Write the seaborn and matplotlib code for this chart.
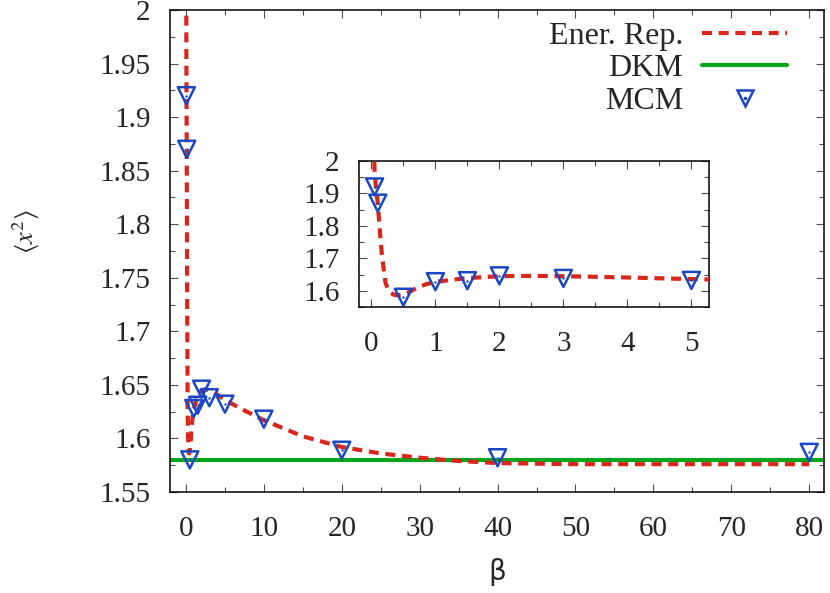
import numpy as np
import pandas as pd
import matplotlib
matplotlib.use("Agg")
import matplotlib.pyplot as plt
import seaborn as sns
from matplotlib.lines import Line2D
from matplotlib.ticker import MultipleLocator

# Ener. Rep. curve
beta_er = [0.03, 0.05, 0.07, 0.1, 0.13, 0.16, 0.19, 0.22, 0.26, 0.3, 0.35, 0.4,
           0.5, 0.6, 0.7, 0.85, 1.0, 1.25, 1.5, 2.0, 2.5, 3.0, 4.0, 5.0, 7.0,
           10, 15, 20, 25, 30, 35, 40, 50, 60, 70, 80]
x2_er = [2.1, 1.97, 1.92, 1.87, 1.79, 1.72, 1.67, 1.625, 1.605, 1.594, 1.588, 1.586,
         1.589, 1.597, 1.608, 1.62, 1.627, 1.634, 1.639, 1.645, 1.646, 1.645, 1.641, 1.636, 1.628,
         1.617, 1.602, 1.592, 1.586, 1.582, 1.579, 1.577, 1.576, 1.576, 1.576, 1.576]

# MCM points
beta_mcm = [0.05, 0.1, 0.5, 1.0, 1.5, 2.0, 3.0, 5.0, 10, 20, 40, 80]
x2_mcm = [1.92, 1.87, 1.58, 1.628, 1.631, 1.646, 1.638, 1.632, 1.618, 1.589, 1.582, 1.587]

# DKM value
dkm = [1.580]

RED = "#d8261a"
GREEN = "#0aa51e"
BLUE = "#1a48c4"

sns.set_theme(style="ticks")
plt.rcParams["font.family"] = ["Liberation Serif", "DejaVu Serif"]
plt.rcParams["mathtext.fontset"] = "stix"

er_df = pd.DataFrame({"beta": beta_er, "x2": x2_er})
mcm_df = pd.DataFrame({"beta": beta_mcm, "x2": x2_mcm})

fig = plt.figure(figsize=(8.3, 5.93), dpi=100)
ax = fig.add_axes([0.2048, 0.1703, 0.788, 0.8128])
ins = fig.add_axes([0.4325, 0.4823, 0.4217, 0.2462])


def draw(a, with_dkm):
    if with_dkm:
        a.axhline(dkm[0], color=GREEN, lw=3, zorder=2)
    sns.lineplot(data=er_df, x="beta", y="x2", ax=a, color=RED, lw=3,
                 dashes=False, zorder=3).lines[-1].set_dashes((2.4, 1.6))
    sns.scatterplot(data=mcm_df, x="beta", y="x2", ax=a, marker="v", s=150,
                    facecolor="none", edgecolor=BLUE, linewidth=1.8, zorder=4)
    sns.scatterplot(data=mcm_df, x="beta", y="x2", ax=a, marker="o", s=3,
                    color=BLUE, linewidth=0, zorder=5)
    a.set_xlabel("")
    a.set_ylabel("")
    a.tick_params(which="both", direction="in", top=True, right=True,
                  color="0.3", width=0.8, labelsize=21)
    a.tick_params(which="major", length=6)
    a.tick_params(which="minor", length=3.5)
    a.tick_params(axis="x", pad=17)
    a.tick_params(axis="y", pad=14)
    for s in a.spines.values():
        s.set_linewidth(1.1)
        s.set_color("black")


draw(ax, True)
ax.set_xlim(-2.05, 81.9)
ax.set_ylim(1.55, 2.0)
ax.xaxis.set_major_locator(MultipleLocator(10))
ax.xaxis.set_minor_locator(MultipleLocator(5))
ax.set_yticks([1.55, 1.6, 1.65, 1.7, 1.75, 1.8, 1.85, 1.9, 1.95, 2.0])
ax.set_yticklabels(["1.55", "1.6", "1.65", "1.7", "1.75", "1.8", "1.85", "1.9", "1.95", "2"])
ax.yaxis.set_minor_locator(MultipleLocator(0.025))
ax.set_xlabel("β", fontsize=20, family="DejaVu Sans", labelpad=12)
ax.set_ylabel(r"$\langle x^2\rangle$", fontsize=19)
ax.yaxis.set_label_coords(-0.195, 0.54)

draw(ins, False)
ins.set_xlim(-0.194, 5.275)
ins.set_ylim(1.55, 2.0)
ins.xaxis.set_major_locator(MultipleLocator(1))
ins.xaxis.set_minor_locator(MultipleLocator(0.5))
ins.set_yticks([1.6, 1.7, 1.8, 1.9, 2.0])
ins.set_yticklabels(["1.6", "1.7", "1.8", "1.9", "2"])
ins.yaxis.set_minor_locator(MultipleLocator(0.05))
ins.patch.set_facecolor("white")

handles = [
    Line2D([], [], color=RED, lw=3, dashes=(2.4, 1.6)),
    Line2D([], [], color=GREEN, lw=3),
    (Line2D([], [], ls="none", marker="v", ms=12, mfc="none", mec=BLUE, mew=1.8),
     Line2D([], [], ls="none", marker="o", ms=1.6, color=BLUE)),
]
ax.legend(handles, ["Ener. Rep.", "DKM", "MCM"], loc="upper right",
          bbox_to_anchor=(0.963, 1.003), frameon=False, markerfirst=False,
          fontsize=23, handlelength=2.65, handletextpad=0.6, labelspacing=0.1,
          borderaxespad=0.0)

fig.savefig("out.png", dpi=100)
